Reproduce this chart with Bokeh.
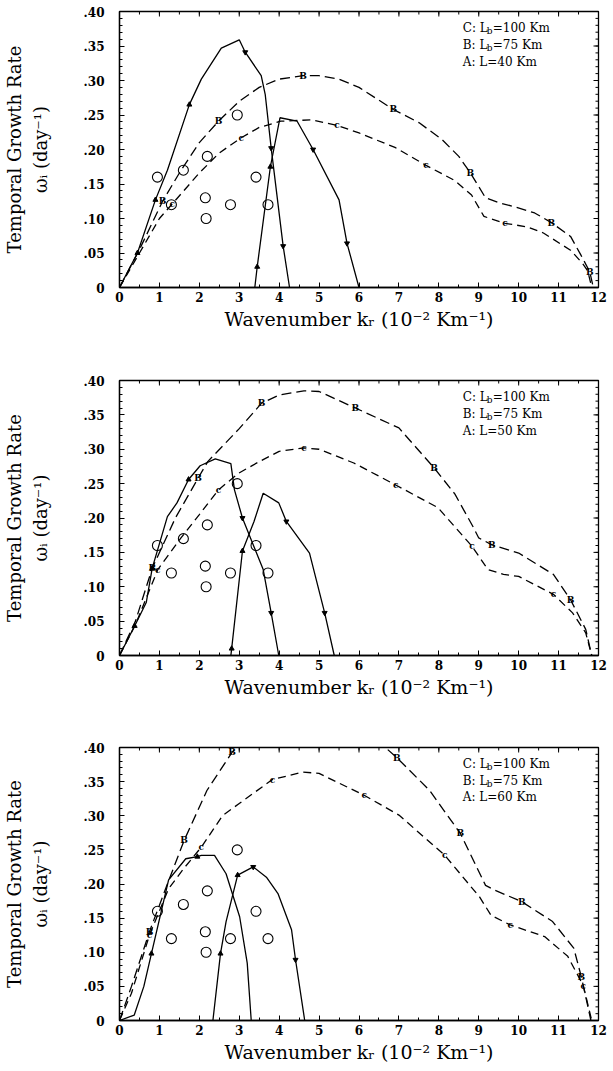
import math
from bokeh.plotting import figure
from bokeh.layouts import column
from bokeh.models import Range1d, FixedTicker, Label, ColumnDataSource
from bokeh.embed import file_html
from bokeh.resources import INLINE
from bokeh.core.properties import value

# ---------------- data ----------------
# observations (open circles), same in each panel
obs_x = [0.95, 1.3, 1.6, 2.2, 2.15, 2.17, 2.78, 2.95, 3.42, 3.72]
obs_y = [0.16, 0.12, 0.17, 0.19, 0.13, 0.10, 0.12, 0.25, 0.16, 0.12]

# Panel 1: A: L=40 Km
p1_a1_x = [0, 0.45, 0.9, 1.2, 1.75, 2.05, 2.55, 3.0, 3.15, 3.55, 3.65, 3.8, 4.1, 4.26]
p1_a1_y = [0, 0.05, 0.127, 0.17, 0.265, 0.302, 0.347, 0.359, 0.341, 0.307, 0.28, 0.202, 0.06, 0]
p1_a1_mk = [1, 2, 4, 8, 11, 12]
p1_a2_x = [3.39, 3.45, 3.78, 4.02, 4.45, 4.85, 5.5, 5.7, 6.0]
p1_a2_y = [0, 0.03, 0.175, 0.246, 0.241, 0.2, 0.127, 0.064, 0]
p1_a2_mk = [1, 2, 5, 7]
p1_b_x = [0, 0.5, 1.08, 1.5, 2.0, 2.48, 3.0, 3.5, 4.0, 4.6, 5.0, 5.5, 6.0, 6.86, 7.5, 8.07, 8.5,
          8.79, 9.17, 9.5, 9.9, 10.4, 10.82, 11.3, 11.55, 11.78, 11.87]
p1_b_y = [0, 0.055, 0.125, 0.166, 0.21, 0.241, 0.27, 0.29, 0.302, 0.307, 0.307, 0.302, 0.29, 0.258,
          0.239, 0.215, 0.19, 0.166, 0.13, 0.123, 0.117, 0.108, 0.094, 0.074, 0.048, 0.023, 0]
p1_b_mk = [2, 5, 9, 13, 17, 22, 25]
p1_c_x = [0, 0.5, 1.0, 1.32, 2.0, 2.5, 3.05, 3.5, 4.04, 4.8, 5.45, 6.0, 6.9, 7.68, 8.4, 8.82, 9.13,
          9.66, 10.2, 10.62, 11.3, 11.6, 11.73, 11.83]
p1_c_y = [0, 0.05, 0.1, 0.121, 0.166, 0.195, 0.217, 0.232, 0.241, 0.243, 0.235, 0.224, 0.203, 0.177,
          0.155, 0.134, 0.103, 0.093, 0.088, 0.079, 0.054, 0.035, 0.024, 0]
p1_c_mk = [3, 6, 10, 13, 17]

# Panel 2: A: L=50 Km
p2_a1_x = [0, 0.38, 0.67, 0.82, 1.2, 1.44, 1.73, 2.02, 2.4, 2.79, 2.88, 3.08, 3.6, 3.8, 3.99]
p2_a1_y = [0, 0.043, 0.077, 0.127, 0.202, 0.222, 0.256, 0.276, 0.286, 0.279, 0.241, 0.2, 0.125, 0.062, 0]
p2_a1_mk = [1, 3, 6, 11, 13]
p2_a2_x = [2.79, 2.81, 3.08, 3.37, 3.6, 3.99, 4.18, 4.76, 5.14, 5.38]
p2_a2_y = [0, 0.01, 0.152, 0.195, 0.236, 0.222, 0.195, 0.149, 0.062, 0]
p2_a2_mk = [1, 2, 6, 8]
p2_b_x = [0, 0.4, 0.82, 1.4, 1.97, 2.21, 3.0, 3.56, 4.0, 4.62, 5.0, 5.91, 7.0, 7.88, 8.4, 8.85, 9.0,
          9.33, 10.0, 10.87, 11.3, 11.68, 11.83]
p2_b_y = [0, 0.05, 0.127, 0.2, 0.258, 0.282, 0.33, 0.367, 0.379, 0.385, 0.384, 0.36, 0.331, 0.273,
          0.235, 0.188, 0.171, 0.161, 0.149, 0.118, 0.081, 0.038, 0]
p2_b_mk = [2, 4, 7, 11, 13, 17, 20]
p2_c_x = [0, 0.4, 0.96, 1.54, 2.0, 2.48, 2.98, 3.5, 4.0, 4.62, 5.0, 5.87, 6.92, 7.98, 8.83, 9.23,
          9.62, 10.0, 10.87, 11.35, 11.68, 11.83]
p2_c_y = [0, 0.045, 0.125, 0.171, 0.205, 0.241, 0.265, 0.282, 0.297, 0.302, 0.3, 0.28, 0.248, 0.215,
          0.159, 0.125, 0.118, 0.115, 0.089, 0.062, 0.033, 0]
p2_c_mk = [2, 5, 9, 12, 14, 18]

# Panel 3: A: L=60 Km
p3_a1_x = [0, 0.37, 0.61, 0.8, 1.23, 1.66, 1.95, 2.05, 2.38, 2.67, 3.01, 3.2, 3.3]
p3_a1_y = [0, 0.008, 0.05, 0.098, 0.206, 0.237, 0.24, 0.242, 0.242, 0.215, 0.152, 0.084, 0]
p3_a1_mk = [3, 6]
p3_a2_x = [2.34, 2.53, 2.67, 2.96, 3.35, 3.68, 3.97, 4.31, 4.41, 4.64]
p3_a2_y = [0, 0.098, 0.145, 0.213, 0.225, 0.21, 0.186, 0.133, 0.089, 0]
p3_a2_mk = [1, 3, 4, 8]
p3_b_x = [0, 0.3, 0.75, 1.2, 1.62, 2.19, 2.82, 3.5, 4.0, 4.7, 5.5, 6.1, 6.66, 6.95, 7.77, 8.54,
          9.17, 9.4, 10.08, 10.85, 11.38, 11.57, 11.81]
p3_b_y = [0, 0.05, 0.13, 0.2, 0.264, 0.337, 0.393, 0.435, 0.455, 0.465, 0.455, 0.43, 0.4, 0.385,
          0.337, 0.274, 0.198, 0.191, 0.174, 0.145, 0.106, 0.064, 0]
p3_b_mk = [2, 4, 6, 13, 15, 18, 21]
p3_c_x = [0, 0.3, 0.75, 1.23, 1.6, 2.05, 2.58, 3.0, 3.83, 4.6, 5.0, 6.13, 7.0, 8.15, 9.02, 9.31,
          9.79, 10.65, 11.23, 11.62, 11.83]
p3_c_y = [0, 0.04, 0.125, 0.193, 0.222, 0.254, 0.3, 0.318, 0.353, 0.364, 0.362, 0.33, 0.301, 0.242,
          0.181, 0.154, 0.14, 0.123, 0.094, 0.051, 0]
p3_c_mk = [2, 5, 8, 11, 13, 16, 19]

legend_c = ["C: L", "=100 Km"]
legend_b = ["B: L", "=75 Km"]
legend_a = ["A: L=40 Km", "A: L=50 Km", "A: L=60 Km"]

x_ticks = list(range(13))
x_minor = [i * 0.5 for i in range(25)]
y_ticks = [0, 0.05, 0.1, 0.15, 0.2, 0.25, 0.3, 0.35, 0.4]
y_minor = [round(i * 0.01, 2) for i in range(41)]
y_labels = ["0", ".05", ".10", ".15", ".20", ".25", ".30", ".35", ".40"]

SERIF = "DejaVu Serif"
X0, X1, Y0, Y1 = 0, 12, 0, 0.40


def style_axis(ax, ticker):
    ax.ticker = ticker
    ax.axis_line_color = "black"
    ax.axis_line_width = 1.3
    ax.major_tick_in = 5
    ax.major_tick_out = 0
    ax.minor_tick_in = 3
    ax.minor_tick_out = 0
    ax.major_tick_line_color = "black"
    ax.minor_tick_line_color = "black"
    ax.major_label_text_font = SERIF
    ax.major_label_text_font_style = "bold"
    ax.major_label_text_font_size = "12px"
    ax.major_label_text_color = "black"
    ax.axis_label_text_font = SERIF
    ax.axis_label_text_font_style = "normal"
    ax.axis_label_text_color = "black"


def marker_types(ys, idx):
    out = []
    for i in idx:
        slope = ys[min(i + 1, len(ys) - 1)] - ys[max(i - 1, 0)]
        out.append("triangle" if slope >= 0 else "inverted_triangle")
    return out


def make_panel(height, bl, br, bt, bb, a1, a2, b, c, a_label):
    p = figure(width=612, height=height, x_range=Range1d(X0, X1), y_range=Range1d(Y0, Y1),
               output_backend="svg", toolbar_location=None,
               min_border_left=bl, min_border_right=br, min_border_top=bt, min_border_bottom=bb)
    p.grid.visible = False
    p.outline_line_color = "black"
    p.outline_line_width = 1.3
    p.background_fill_color = "white"
    p.border_fill_color = "white"

    style_axis(p.xaxis[0], FixedTicker(ticks=x_ticks, minor_ticks=x_minor))
    p.xaxis[0].major_label_standoff = 4
    p.xaxis[0].axis_label = "Wavenumber kᵣ (10⁻² Km⁻¹)"
    p.xaxis[0].axis_label_standoff = 3
    p.xaxis[0].axis_label_text_font_size = "19px"

    style_axis(p.yaxis[0], FixedTicker(ticks=y_ticks, minor_ticks=y_minor))
    p.yaxis[0].major_label_overrides = {t: l for t, l in zip(y_ticks, y_labels)}
    p.yaxis[0].major_label_standoff = 15
    p.yaxis[0].axis_label = "Temporal Growth Rate\nωᵢ (day⁻¹)"
    p.yaxis[0].axis_label_standoff = 30
    p.yaxis[0].axis_label_text_font_size = "18px"

    # inner ticks on the top and right edges (clipped half-dashes on the frame edge)
    p.scatter(x_ticks, [Y1] * len(x_ticks), marker="dash", angle=math.pi / 2, size=10,
              line_color="black", line_width=1)
    p.scatter(x_minor, [Y1] * len(x_minor), marker="dash", angle=math.pi / 2, size=6,
              line_color="black", line_width=1)
    p.scatter([X1] * len(y_ticks), y_ticks, marker="dash", size=10, line_color="black", line_width=1)
    p.scatter([X1] * len(y_minor), y_minor, marker="dash", size=6, line_color="black", line_width=1)

    # curves
    for (xs, ys, mk) in (a1, a2):
        p.line(xs, ys, line_color="black", line_width=1.3)
        mx = [xs[i] for i in mk]
        my = [ys[i] for i in mk]
        src = ColumnDataSource(dict(x=mx, y=my, m=marker_types(ys, mk)))
        p.scatter("x", "y", source=src, marker="m", size=5, fill_color="black", line_color="black")
    for (xs, ys, mk), letter, dash in ((b, "B", "10 5"), (c, "c", "8 5")):
        p.line(xs, ys, line_color="black", line_width=1.3, line_dash=dash)
        mx = [xs[i] for i in mk]
        my = [ys[i] for i in mk]
        src = ColumnDataSource(dict(x=mx, y=my, t=[letter] * len(mx)))
        p.text("x", "y", text="t", source=src, text_font=value(SERIF), text_font_style="bold",
               text_font_size="9px", text_align="center", text_baseline="middle", text_color="black")

    p.scatter(obs_x, obs_y, marker="circle", size=10, fill_color=None, line_color="black",
              line_width=1.1)

    # legend text
    lx = 8.6
    common = dict(text_font=SERIF, text_font_size="12px", text_color="black", text_baseline="middle")
    rows = [(0.376, legend_c), (0.351, legend_b)]
    for ly, (t1, t2) in rows:
        p.add_layout(Label(x=lx, y=ly, text=t1, **common))
        p.add_layout(Label(x=lx, y=ly, x_offset=24, y_offset=-3, text="b", text_font=SERIF,
                           text_font_size="9px", text_color="black", text_baseline="middle"))
        p.add_layout(Label(x=lx, y=ly, x_offset=30, text=t2, **common))
    p.add_layout(Label(x=lx, y=0.327, text=a_label, **common))
    return p


f1 = make_panel(345, 119, 13, 11, 58,
                (p1_a1_x, p1_a1_y, p1_a1_mk), (p1_a2_x, p1_a2_y, p1_a2_mk),
                (p1_b_x, p1_b_y, p1_b_mk), (p1_c_x, p1_c_y, p1_c_mk), legend_a[0])
f2 = make_panel(365, 113, 14, 35, 55,
                (p2_a1_x, p2_a1_y, p2_a1_mk), (p2_a2_x, p2_a2_y, p2_a2_mk),
                (p2_b_x, p2_b_y, p2_b_mk), (p2_c_x, p2_c_y, p2_c_mk), legend_a[1])
f3 = make_panel(360, 114, 14, 37, 50,
                (p3_a1_x, p3_a1_y, p3_a1_mk), (p3_a2_x, p3_a2_y, p3_a2_mk),
                (p3_b_x, p3_b_y, p3_b_mk), (p3_c_x, p3_c_y, p3_c_mk), legend_a[2])

layout = column(f1, f2, f3)
open("out.html", "w").write(file_html(layout, INLINE))
